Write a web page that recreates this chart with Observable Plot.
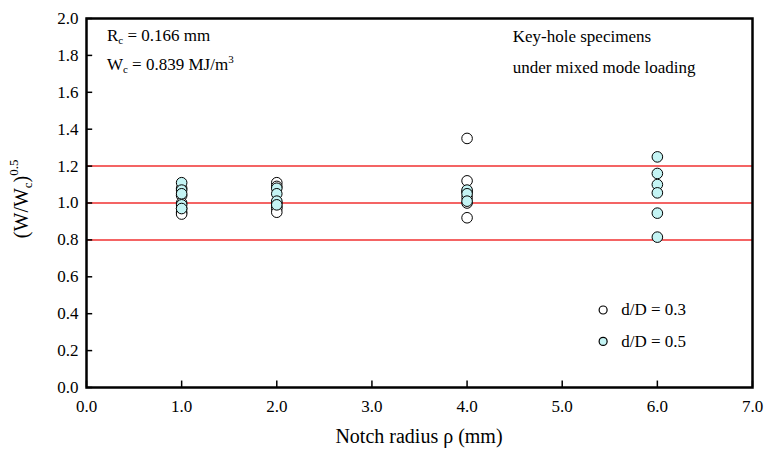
<!DOCTYPE html>
<html><head><meta charset="utf-8">
<script src="https://cdn.jsdelivr.net/npm/d3@7"></script>
<script src="https://cdn.jsdelivr.net/npm/@observablehq/plot@0.6"></script>
<style>body{margin:0;background:#fff;} svg{display:block;}</style>
</head><body><div id="chart"></div>
<script>
// d/D = 0.3 (open circles)
const rho03 = [1,1,1,1,1,1, 2,2,2,2,2,2, 4,4,4,4,4,4];
const w03   = [1.08,1.04,1.00,0.97,0.95,0.94, 1.11,1.09,1.00,0.98,0.97,0.95, 1.35,1.12,1.06,1.03,1.00,0.92];
// d/D = 0.5 (cyan circles)
const rho05 = [1,1,1,1,1, 2,2,2,2, 4,4,4, 6,6,6,6,6,6];
const w05   = [1.11,1.07,1.05,0.99,0.97, 1.08,1.05,1.01,0.99, 1.07,1.05,1.01, 1.25,1.16,1.10,1.055,0.945,0.815];
const refLines = [0.8, 1.0, 1.2];
const xTicks = [0,1,2,3,4,5,6,7];
const yTicks = [0,0.2,0.4,0.6,0.8,1.0,1.2,1.4,1.6,1.8,2.0];
const legendLabels = ["d/D = 0.3", "d/D = 0.5"];
const legendY = [0.42, 0.25];
const fills = ["#ffffff", "#c4f4f4"];

const d03 = rho03.map((x,i)=>({x, y:w03[i]}));
const d05 = rho05.map((x,i)=>({x, y:w05[i]}));
const leg = legendLabels.map((t,i)=>({t, y:legendY[i], fill:fills[i]}));
const font = "'Liberation Serif', 'Times New Roman', serif";

const plot = Plot.plot({
  width: 766, height: 450,
  marginLeft: 86, marginRight: 14, marginTop: 18, marginBottom: 63,
  style: {fontFamily: font, fontSize: "17px", color: "#000", background: "#fff"},
  x: {domain: [0,7]},
  y: {domain: [0,2]},
  marks: [
    Plot.ruleY(refLines, {stroke: "#f03030", strokeWidth: 1.5}),
    Plot.ruleX(xTicks, {x: d=>d, y1: 0, y2: 0.035, stroke: "#000", strokeWidth: 1.5}),
    Plot.ruleY(yTicks, {y: d=>d, x1: 0, x2: 0.065, stroke: "#000", strokeWidth: 1.5}),
    Plot.axisX(xTicks, {tickSize: 0, tickPadding: 12, tickFormat: d3.format(".1f"), label: null, fontSize: 17}),
    Plot.axisY(yTicks, {tickSize: 0, tickPadding: 8, tickFormat: d3.format(".1f"), label: null, fontSize: 17}),
    Plot.dot(d03, {x: "x", y: "y", r: 5.3, fill: fills[0], stroke: "#000", strokeWidth: 1}),
    Plot.dot(d05, {x: "x", y: "y", r: 5.3, fill: fills[1], stroke: "#000", strokeWidth: 1}),
    Plot.dot(leg, {x: 5.43, y: "y", r: 4, fill: "fill", stroke: "#000", strokeWidth: 1.2}),
    Plot.text(leg, {x: 5.62, y: "y", text: "t", textAnchor: "start", fontSize: 17, fill: "#000"}),
    Plot.text(["Key-hole specimens", "under mixed mode loading"], {x: 4.48, y: [1.9, 1.735], text: d=>d, textAnchor: "start", fontSize: 17, fill: "#000"}),
    Plot.frame({stroke: "#000", strokeWidth: 2.5})
  ]
});
document.getElementById("chart").appendChild(plot);

const svg = d3.select(plot);
const sx = plot.scale("x"), sy = plot.scale("y");
function sub(parts, x, y) {
  const el = svg.append("text").attr("x", x).attr("y", y).attr("text-anchor", "start")
    .attr("font-size", 17).attr("fill", "#000");
  parts.forEach(p => {
    const ts = el.append("tspan").text(p[0]);
    if (p[1]) ts.attr("font-size", p[1].size).attr("dy", p[1].dy);
  });
  return el;
}
// R_c = 0.166 mm
sub([["R"], ["c", {size: 11, dy: 3}], [" = 0.166 mm", {size: 17, dy: -3}]], sx.apply(0.22), sy.apply(1.875));
// W_c = 0.839 MJ/m^3
sub([["W"], ["c", {size: 11, dy: 3}], [" = 0.839 MJ/m", {size: 17, dy: -3}], ["3", {size: 11, dy: -7}]], sx.apply(0.22), sy.apply(1.72));

// x axis title
svg.append("text").attr("x", sx.apply(3.5)).attr("y", 443).attr("text-anchor", "middle")
  .attr("font-size", 20).attr("fill", "#000").text("Notch radius ρ (mm)");
// y axis title
const yt = svg.append("text").attr("transform", `translate(28,${sy.apply(1.02)}) rotate(-90)`)
  .attr("text-anchor", "middle").attr("font-size", 20).attr("fill", "#000");
yt.append("tspan").text("(W/W");
yt.append("tspan").text("c").attr("font-size", 13).attr("dy", 4);
yt.append("tspan").text(")").attr("font-size", 20).attr("dy", -4);
yt.append("tspan").text("0.5").attr("font-size", 13).attr("dy", -10);

svg.selectAll("text").style("font-family", font);
</script>
</body></html>
